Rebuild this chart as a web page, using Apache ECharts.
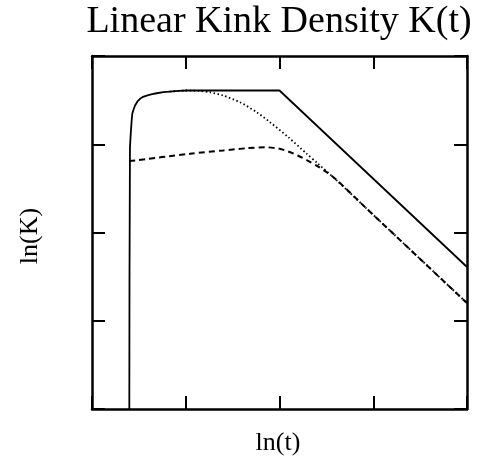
<!DOCTYPE html>
<html>
<head>
<meta charset="utf-8">
<script src="https://cdn.jsdelivr.net/npm/echarts@6/dist/echarts.min.js"></script>
<style>
  html, body { margin: 0; padding: 0; background: #fff; }
  #chart { width: 481px; height: 460px; }
</style>
</head>
<body>
<div id="chart"></div>
<script>
// values, in axis units (both axes run 0..4, 4 ticks)
const solidX = [0.398, 0.400, 0.405, 0.415, 0.423, 0.430, 0.445, 0.459, 0.485, 0.512, 0.545, 0.583, 0.630, 0.690, 0.760, 0.832, 0.920, 1.010, 2.000, 4.000];
const solidY = [0.000, 1.500, 2.967, 3.150, 3.269, 3.348, 3.400, 3.439, 3.485, 3.515, 3.537, 3.552, 3.566, 3.578, 3.590, 3.597, 3.604, 3.609, 3.609, 1.609];

const dotX = [0.830, 1.000, 1.150, 1.259, 1.400, 1.579, 1.757, 1.899, 2.094, 2.290, 2.400, 2.610, 2.930, 4.000];
const dotY = [3.597, 3.609, 3.604, 3.589, 3.552, 3.476, 3.363, 3.250, 3.080, 2.893, 2.790, 2.590, 2.270, 1.200];

const dashX = [0.398, 1.045, 1.400, 1.650, 1.850, 2.000, 2.100, 2.200, 2.300, 2.400, 2.500, 2.610, 2.930, 4.000];
const dashY = [2.809, 2.892, 2.930, 2.955, 2.966, 2.950, 2.915, 2.870, 2.815, 2.755, 2.685, 2.595, 2.270, 1.200];

const axisMin = 0, axisMax = 4, axisStep = 1;

const titleText = 'Linear Kink Density K(t)';
const xName = 'ln(t)';
const yName = 'ln(K)';

const serif = '"Liberation Serif", "DejaVu Serif", serif';

function pairs(xs, ys) {
  return xs.map((x, i) => [x, ys[i]]);
}

// one axis per side so the box gets inward ticks all round
function boxAxis(position) {
  return {
    type: 'value',
    position: position,
    min: axisMin,
    max: axisMax,
    interval: axisStep,
    axisLine: { show: true, onZero: false, lineStyle: { color: '#000', width: 2.5 } },
    axisTick: { show: true, inside: true, length: 13, lineStyle: { color: '#000', width: 2 } },
    axisLabel: { show: false },
    splitLine: { show: false }
  };
}

const chart = echarts.init(document.getElementById('chart'), null, { renderer: 'canvas' });

chart.setOption({
  backgroundColor: '#fff',
  animation: false,
  grid: { left: 92, right: 14, top: 56, bottom: 51 },
  xAxis: [boxAxis('bottom'), boxAxis('top')],
  yAxis: [boxAxis('left'), boxAxis('right')],
  graphic: [
    {
      type: 'text', x: 279, y: 22,
      style: { text: titleText, font: '38px ' + serif, fill: '#000', align: 'center', verticalAlign: 'middle' }
    },
    {
      type: 'text', x: 278, y: 443,
      style: { text: xName, font: '26px ' + serif, fill: '#000', align: 'center', verticalAlign: 'middle' }
    },
    {
      type: 'text', x: 30, y: 236, rotation: Math.PI / 2,
      style: { text: yName, font: '26px ' + serif, fill: '#000', align: 'center', verticalAlign: 'middle' }
    }
  ],
  series: [
    {
      type: 'line',
      data: pairs(dashX, dashY),
      showSymbol: false,
      smooth: 0.25,
      lineStyle: { color: '#000', width: 2, type: [6, 4] }
    },
    {
      type: 'line',
      data: pairs(dotX, dotY),
      showSymbol: false,
      smooth: 0.25,
      lineStyle: { color: '#000', width: 1.8, type: [1.5, 2.5] }
    },
    {
      type: 'line',
      data: pairs(solidX, solidY),
      showSymbol: false,
      lineStyle: { color: '#000', width: 1.8 }
    }
  ]
});
</script>
</body>
</html>
